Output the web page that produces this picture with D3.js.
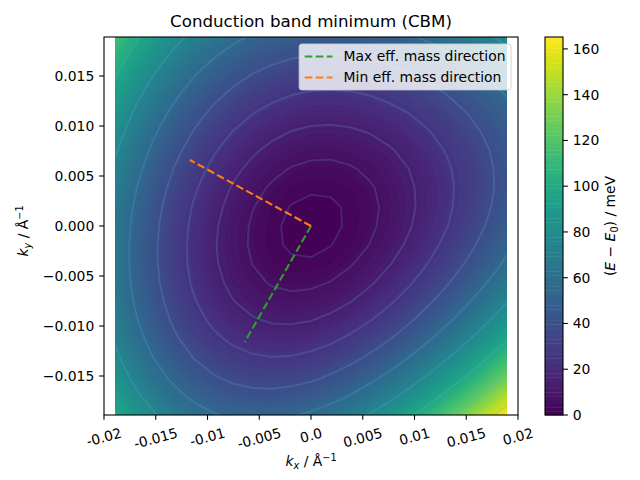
<!DOCTYPE html>
<html><head><meta charset="utf-8">
<script src="https://cdn.jsdelivr.net/npm/d3@7"></script>
<style>
body{margin:0;background:#fff}
svg{display:block}
text{font-family:"DejaVu Sans",sans-serif;fill:#000}
</style>
</head><body>
<svg id="c" width="640" height="480"></svg>
<script>
// ---------------- data ----------------
// sample positions in k-space (1/Å), same for kx and ky
const kSamples = [-0.0189,-0.01701,-0.01512,-0.01323,-0.01134,-0.00945,-0.00756,-0.00567,-0.00378,-0.00189,0,
                  0.00189,0.00378,0.00567,0.00756,0.00945,0.01134,0.01323,0.01512,0.01701,0.0189];
// E - E0 (meV); one row per kx sample (left -> right), values along ky (bottom -> top)
const energyByKx = [
 [100.0,91.9,85.0,79.1,74.3,70.6,67.8,66.0,65.1,65.1,66.0,67.7,70.2,73.5,77.5,82.2,87.6,93.5,100.1,107.3,115.0],
 [87.6,79.3,72.3,66.3,61.4,57.6,54.7,52.8,51.9,51.9,52.7,54.4,56.9,60.2,64.2,69.0,74.4,80.4,87.1,94.3,102.1],
 [77.1,68.7,61.5,55.3,50.3,46.3,43.4,41.4,40.4,40.3,41.1,42.7,45.2,48.5,52.5,57.3,62.7,68.8,75.5,82.9,90.7],
 [68.5,59.9,52.5,46.2,40.9,36.8,33.7,31.6,30.5,30.3,31.0,32.6,35.0,38.3,42.3,47.1,52.5,58.7,65.4,72.8,80.8],
 [61.9,53.0,45.3,38.7,33.3,29.0,25.7,23.4,22.2,21.8,22.5,24.0,26.3,29.5,33.5,38.3,43.7,49.9,56.7,64.2,72.2],
 [57.0,47.8,39.8,33.0,27.3,22.7,19.2,16.8,15.3,14.9,15.4,16.8,19.1,22.2,26.1,30.8,36.3,42.5,49.4,56.9,65.0],
 [53.9,44.3,36.0,28.8,22.9,18.0,14.3,11.6,10.0,9.4,9.7,11.0,13.1,16.2,20.1,24.7,30.2,36.4,43.3,50.9,59.1],
 [52.5,42.5,33.8,26.3,20.0,14.9,10.8,7.9,6.1,5.2,5.4,6.5,8.5,11.5,15.3,19.9,25.3,31.5,38.4,46.1,54.3],
 [52.8,42.3,33.2,25.3,18.6,13.1,8.8,5.6,3.5,2.4,2.4,3.3,5.2,8.0,11.7,16.3,21.7,27.8,34.8,42.4,50.8],
 [54.6,43.7,34.1,25.7,18.7,12.8,8.1,4.6,2.2,0.9,0.6,1.3,3.0,5.7,9.3,13.8,19.1,25.3,32.2,39.9,48.4],
 [58.0,46.5,36.4,27.6,20.1,13.8,8.8,4.9,2.1,0.5,0.0,0.5,2.1,4.6,8.0,12.4,17.7,23.8,30.8,38.5,47.0],
 [62.9,50.8,40.2,30.8,22.8,16.1,10.6,6.4,3.3,1.4,0.6,0.8,2.2,4.5,7.8,12.1,17.3,23.4,30.3,38.1,46.6],
 [69.2,56.5,45.3,35.4,26.9,19.6,13.7,9.0,5.6,3.3,2.2,2.2,3.3,5.5,8.6,12.8,17.9,23.9,30.9,38.6,47.2],
 [76.9,63.6,51.7,41.2,32.1,24.4,17.9,12.8,9.0,6.3,4.9,4.6,5.4,7.4,10.4,14.4,19.4,25.4,32.3,40.1,48.8],
 [85.9,71.9,59.3,48.2,38.5,30.2,23.3,17.7,13.4,10.3,8.5,7.9,8.5,10.2,13.0,16.9,21.8,27.7,34.6,42.4,51.1],
 [96.3,81.4,68.1,56.3,46.0,37.1,29.6,23.5,18.8,15.3,13.1,12.2,12.5,13.9,16.5,20.2,25.0,30.8,37.7,45.5,54.3],
 [107.8,92.1,78.1,65.5,54.5,45.0,37.0,30.3,25.1,21.2,18.6,17.3,17.2,18.4,20.8,24.3,29.0,34.7,41.5,49.3,58.1],
 [120.5,104.0,89.1,75.8,64.1,53.9,45.2,38.0,32.2,27.9,24.8,23.2,22.8,23.7,25.8,29.2,33.7,39.3,46.0,53.9,62.7],
 [134.3,116.9,101.1,87.1,74.6,63.7,54.4,46.6,40.2,35.3,31.9,29.8,29.1,29.6,31.5,34.6,39.0,44.5,51.2,59.0,67.9],
 [149.1,130.8,114.2,99.2,86.0,74.4,64.3,55.9,49.0,43.6,39.6,37.1,36.0,36.3,37.9,40.8,44.9,50.4,57.0,64.8,73.7],
 [165.0,145.7,128.1,112.3,98.2,85.8,75.1,66.0,58.4,52.5,48.0,45.0,43.5,43.5,44.8,47.4,51.4,56.7,63.3,71.0,80.0]
];
const contourLineLevels = [1.55,6.2,13.95,24.8,38.75,55.8,75.95,99.2,125.55,155];
const colorMax = 165.2;
const fillLevelCount = 100;

const maxMassKx = [0,-0.0064], maxMassKy = [0,-0.0116];
const minMassKx = [0,-0.0117], minMassKy = [0,0.0066];

const xTickValues = [-0.02,-0.015,-0.01,-0.005,0,0.005,0.01,0.015,0.02];
const xTickLabels = ["-0.02","-0.015","-0.01","-0.005","0.0","0.005","0.01","0.015","0.02"];
const yTickValues = [-0.015,-0.01,-0.005,0,0.005,0.01,0.015];
const cbarTicks = [0,20,40,60,80,100,120,140,160];

const legendItems = [
  {label:"Max eff. mass direction", color:"#2ca02c"},
  {label:"Min eff. mass direction", color:"#ff7f0e"}
];

// ---------------- layout ----------------
const X0=104, X1=518, Y0=37, Y1=415;
const FS = 13.9;
const LWD = 2.08, DASH = "7.7,3.33";
const svg = d3.select("#c");
const n = kSamples.length;

const xScale = d3.scaleLinear().domain([-0.02,0.02]).range([X0,X1]);
const yScale = d3.scaleLinear().domain([kSamples[0],kSamples[n-1]]).range([Y1,Y0]);
const gx = d3.scaleLinear().domain([0.5,n-0.5]).range([xScale(kSamples[0]),xScale(kSamples[n-1])]);
const gy = d3.scaleLinear().domain([0.5,n-0.5]).range([yScale(kSamples[0]),yScale(kSamples[n-1])]);
const proj = d3.geoTransform({point:function(x,y){this.stream.point(gx(x),gy(y));}});
const path = d3.geoPath(proj);

const values = new Array(n*n);
for (let j=0;j<n;j++) for (let i=0;i<n;i++) values[j*n+i] = energyByKx[i][j];

const fillLevels = d3.range(fillLevelCount).map(k => k*colorMax/fillLevelCount);
const bandColor = k => d3.interpolateViridis(((k+0.5)/fillLevelCount));

svg.append("clipPath").attr("id","clip").append("rect")
  .attr("x",xScale(kSamples[0])).attr("y",Y0)
  .attr("width",xScale(kSamples[n-1])-xScale(kSamples[0])).attr("height",Y1-Y0);

const plot = svg.append("g").attr("clip-path","url(#clip)");
const filled = d3.contours().size([n,n]).thresholds(fillLevels)(values);
plot.selectAll("path.band").data(filled).join("path")
  .attr("class","band").attr("d",path)
  .attr("fill",(d,k)=>bandColor(k)).attr("stroke",(d,k)=>bandColor(k)).attr("stroke-width",0.3);

const lines = d3.contours().size([n,n]).thresholds(contourLineLevels)(values);
plot.selectAll("path.cl").data(lines).join("path")
  .attr("class","cl").attr("d",path)
  .attr("fill","none").attr("stroke","rgb(100,175,225)").attr("stroke-opacity",0.2)
  .attr("stroke-width",2);

// direction lines
const line = d3.line().x(d=>xScale(d[0])).y(d=>yScale(d[1]));
svg.append("path").attr("d",line(maxMassKx.map((v,i)=>[v,maxMassKy[i]])))
  .attr("fill","none").attr("stroke","#2ca02c").attr("stroke-width",LWD).attr("stroke-dasharray",DASH);
svg.append("path").attr("d",line(minMassKx.map((v,i)=>[v,minMassKy[i]])))
  .attr("fill","none").attr("stroke","#ff7f0e").attr("stroke-width",LWD).attr("stroke-dasharray",DASH);

// spines
svg.append("rect").attr("x",X0).attr("y",Y0).attr("width",X1-X0).attr("height",Y1-Y0)
  .attr("fill","none").attr("stroke","#000").attr("stroke-width",1.1);

// x ticks
const TL = 4.86, PAD = 4.86;
const xg = svg.append("g");
xTickValues.forEach((v,i)=>{
  const x = xScale(v);
  xg.append("line").attr("x1",x).attr("x2",x).attr("y1",Y1).attr("y2",Y1+TL).attr("stroke","#000").attr("stroke-width",1.1);
  const t = xg.append("text").attr("font-size",FS).attr("text-anchor","middle").attr("dy","0.35em").text(xTickLabels[i]);
  const w = t.node().getComputedTextLength();
  const h = FS*1.17;
  const a = 15*Math.PI/180;
  const bh = w*Math.sin(a)+h*Math.cos(a);
  const cy = Y1+TL+PAD+bh/2;
  t.attr("transform",`translate(${x},${cy}) rotate(-15)`);
});
// y ticks
yTickValues.forEach(v=>{
  const y = yScale(v);
  svg.append("line").attr("x1",X0-TL).attr("x2",X0).attr("y1",y).attr("y2",y).attr("stroke","#000").attr("stroke-width",1.1);
  svg.append("text").attr("x",X0-TL-PAD).attr("y",y).attr("dy","0.35em").attr("text-anchor","end")
    .attr("font-size",FS).text(d3.format(".3f")(v).replace("-","\u2212"));
});

// axis labels
const xl = svg.append("text").attr("x",311).attr("y",466).attr("text-anchor","middle").attr("font-size",FS);
xl.append("tspan").attr("font-style","italic").text("k");
xl.append("tspan").attr("font-style","italic").attr("font-size",FS*0.7).attr("dy",2.6).text("x");
xl.append("tspan").attr("dy",-2.6).text(" / Å");
xl.append("tspan").attr("font-size",FS*0.7).attr("dy",-5.5).text("\u22121");

const yl = svg.append("text").attr("transform","translate(28,231) rotate(-90)").attr("text-anchor","middle").attr("font-size",FS);
yl.append("tspan").attr("font-style","italic").text("k");
yl.append("tspan").attr("font-style","italic").attr("font-size",FS*0.7).attr("dy",2.6).text("y");
yl.append("tspan").attr("dy",-2.6).text(" / Å");
yl.append("tspan").attr("font-size",FS*0.7).attr("dy",-5.5).text("\u22121");

// title
svg.append("text").attr("x",311).attr("y",27).attr("text-anchor","middle").attr("font-size",16.67)
  .text("Conduction band minimum (CBM)");

// colorbar
const CB0=545, CB1=563;
const cbScale = d3.scaleLinear().domain([0,colorMax]).range([Y1,Y0]);
const cb = svg.append("g");
fillLevels.forEach((lv,k)=>{
  const top = k+1<fillLevels.length ? fillLevels[k+1] : colorMax;
  cb.append("rect").attr("x",CB0).attr("width",CB1-CB0)
    .attr("y",cbScale(top)).attr("height",cbScale(lv)-cbScale(top)+0.4)
    .attr("fill",bandColor(k));
});
cb.append("rect").attr("x",CB0).attr("y",Y0).attr("width",CB1-CB0).attr("height",Y1-Y0)
  .attr("fill","none").attr("stroke","#000").attr("stroke-width",1.1);
cbarTicks.forEach(v=>{
  const y = cbScale(v);
  cb.append("line").attr("x1",CB1).attr("x2",CB1+TL).attr("y1",y).attr("y2",y).attr("stroke","#000").attr("stroke-width",1.1);
  cb.append("text").attr("x",CB1+TL+PAD).attr("y",y).attr("dy","0.35em").attr("font-size",FS).text(v);
});
const cl = svg.append("text").attr("transform","translate(615,226) rotate(-90)").attr("text-anchor","middle").attr("font-size",FS);
cl.append("tspan").text("(");
cl.append("tspan").attr("font-style","italic").text("E");
cl.append("tspan").text(" \u2212 ");
cl.append("tspan").attr("font-style","italic").text("E");
cl.append("tspan").attr("font-size",FS*0.7).attr("dy",2.6).text("0");
cl.append("tspan").attr("dy",-2.6).text(") / meV");

// legend
const lg = svg.append("g");
const tmp = lg.selectAll("text.m").data(legendItems).join("text").attr("font-size",FS).text(d=>d.label);
const tw = d3.max(tmp.nodes(), nd=>nd.getComputedTextLength());
tmp.remove();
const bp = 0.4*FS, hl = 2.0*FS, htp = 0.8*FS, rowH = 21;
const LW = bp + hl + htp + tw + bp;
const LR = X1 - 0.5*FS, LT = Y0 + 0.5*FS;
const LL = LR - LW;
const LH = 46;
lg.append("rect").attr("x",LL).attr("y",LT).attr("width",LW).attr("height",LH).attr("rx",2.8)
  .attr("fill","#fff").attr("fill-opacity",0.8).attr("stroke","#ccc").attr("stroke-opacity",0.8).attr("stroke-width",1);
legendItems.forEach((d,i)=>{
  const cy = LT + 12.6 + i*rowH;
  lg.append("line").attr("x1",LL+bp).attr("x2",LL+bp+hl).attr("y1",cy).attr("y2",cy)
    .attr("stroke",d.color).attr("stroke-width",LWD).attr("stroke-dasharray",DASH);
  lg.append("text").attr("x",LL+bp+hl+htp).attr("y",cy).attr("dy","0.35em").attr("font-size",FS).text(d.label);
});
</script>
</body></html>
